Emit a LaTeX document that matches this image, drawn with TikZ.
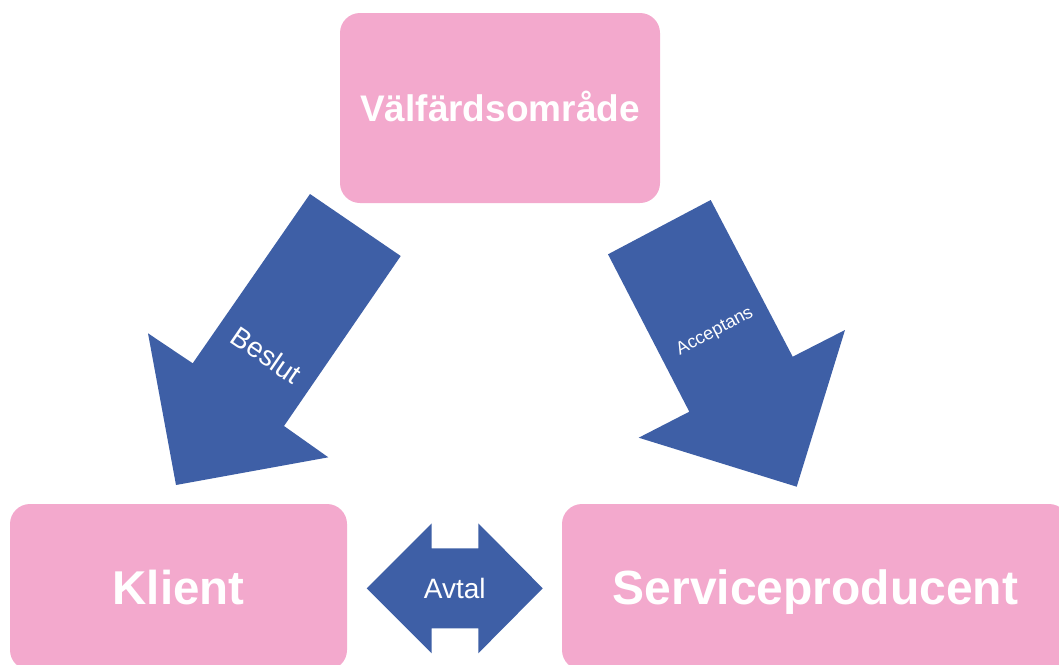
\documentclass[tikz,border=0pt]{standalone}
\usepackage{fontspec}
\setmainfont{Liberation Sans}
\definecolor{rosa}{HTML}{F3A9CD}
\definecolor{blu}{HTML}{3E5FA6}
\tikzset{
  box/.style={fill=rosa, rounded corners=15pt, inner sep=0pt, text=white, text depth=0pt},
  freccia/.style={fill=blu},
  etichetta/.style={text=white, inner sep=0pt}
}
\begin{document}
\begin{tikzpicture}[x=0.75pt, y=-0.75pt]
    \useasboundingbox (0,0) rectangle (1059,664);
    \clip (0,0) rectangle (1059,664);

    % Riquadri
    \node[box, minimum width=240pt, minimum height=142.5pt, text height=19.9pt,
        font=\bfseries\fontsize{27.75}{30}\selectfont] (valf) at (500,108) {Välfärdsområde};
    \node[box, minimum width=252.75pt, minimum height=124.5pt, text height=25.6pt,
        font=\bfseries\fontsize{35.6}{38}\selectfont] (klient) at (178.5,587) {Klient};
    \node[box, minimum width=380.25pt, minimum height=124.5pt, text height=25.6pt,
        font=\bfseries\fontsize{36}{38}\selectfont] (prod) at (815.5,587) {Serviceproducent};

    % Frecce
    \fill[freccia] (310,194) -- (400.7,256) -- (284,426) -- (328.3,457.3) -- (176,485)
        -- (148,333.3) -- (192.7,363.3) -- cycle;
    \fill[freccia] (710.7,200) -- (792.7,356.7) -- (845,330) -- (796.7,486.7) -- (638.7,437.7)
        -- (689.3,411.7) -- (608,254.3) -- cycle;
    \fill[freccia] (366.7,588.3) -- (431.7,523.3) -- (431.7,548.3) -- (478.3,548.3) -- (478.3,523.3)
        -- (542.7,588.3) -- (478.3,653.3) -- (478.3,628.3) -- (431.7,628.3) -- (431.7,653.3) -- cycle;

    % Etichette
    \node[etichetta, rotate=-34.4, font=\fontsize{21}{24}\selectfont] (beslut) at (266.7,355) {Beslut};
    \node[etichetta, rotate=27.9, font=\fontsize{13.5}{15}\selectfont] (accept) at (715,331.7) {Acceptans};
    \node[etichetta, font=\fontsize{21}{24}\selectfont] (avtal) at (454.7,588) {Avtal};
\end{tikzpicture}
\end{document}
